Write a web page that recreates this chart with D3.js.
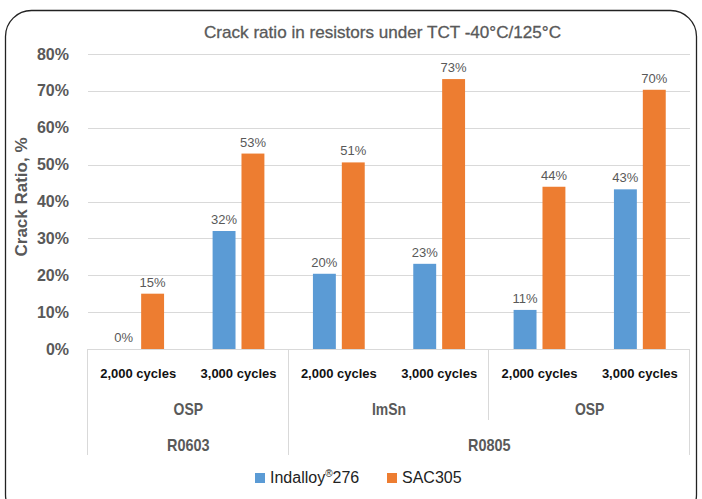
<!DOCTYPE html>
<html>
<head>
<meta charset="utf-8">
<script src="https://cdn.jsdelivr.net/npm/d3@7"></script>
<style>
  body { margin:0; background:#fff; }
  svg { display:block; }
</style>
</head>
<body>
<div class="canvas"></div>
<script>
// data
var cycles = ["2,000 cycles","3,000 cycles","2,000 cycles","3,000 cycles","2,000 cycles","3,000 cycles"];
var finishes = ["OSP","ImSn","OSP"];          // each spans 2 cycle columns
var finishSpan = [2,2,2];
var packages = ["R0603","R0805"];
var packageSpan = [2,4];
var seriesNames = ["Indalloy\u00ae276","SAC305"];
var indalloy = [0, 32, 20.4, 23.1, 10.6, 43.3];
var sac305 = [15, 53, 50.6, 73.2, 44, 70.3];
var yTicks = [0,10,20,30,40,50,60,70,80];
var colors = ["#5b9bd5","#ed7d31"];

var W = 702, H = 499;
var margin = {t:54, l:88};
var plotRight = 690, plotBottom = 349;

var svg = d3.select('.canvas').append('svg')
    .attr('width', W).attr('height', H);

var font = "'Liberation Sans', Arial, sans-serif";

// squeeze Arial-ish text towards the narrower Calibri look
function squeeze(sel, k){
    sel.each(function(){
        var w = this.getComputedTextLength();
        d3.select(this).attr('textLength', w * k).attr('lengthAdjust', 'spacingAndGlyphs');
    });
}

// outer rounded frame
svg.append('rect')
    .attr('x', 5.5).attr('y', 10.5)
    .attr('width', 691).attr('height', 510)
    .attr('rx', 26).attr('ry', 26)
    .attr('fill', 'none').attr('stroke', '#222').attr('stroke-width', 1.3);

var y = d3.scaleLinear().domain([0,80]).range([plotBottom, margin.t]);
var x0 = d3.scaleBand().domain(d3.range(cycles.length)).range([margin.l, plotRight]);
var x1 = d3.scaleBand().domain([0,1]).range([0, x0.bandwidth()])
    .paddingInner(0.207).paddingOuter(0.84);

// title
svg.append('text')
    .attr('x', 204).attr('y', 38)
    .attr('font-family', font)
    .attr('font-size', '17px')
    .attr('fill', '#595959')
    .attr('stroke', '#595959').attr('stroke-width', 0.3)
    .attr('textLength', 357)
    .attr('lengthAdjust', 'spacingAndGlyphs')
    .text('Crack ratio in resistors under TCT -40\u00b0C/125\u00b0C');

// gridlines
svg.append('g').selectAll('line')
    .data(yTicks.filter(function(d){ return d > 0; }))
    .enter().append('line')
    .attr('x1', margin.l).attr('x2', plotRight)
    .attr('y1', function(d){ return Math.round(y(d)) + 0.5; })
    .attr('y2', function(d){ return Math.round(y(d)) + 0.5; })
    .attr('stroke', '#d9d9d9').attr('stroke-width', 1);

// y tick labels
svg.append('g').selectAll('text')
    .data(yTicks)
    .enter().append('text')
    .attr('x', 69)
    .attr('y', function(d){ return y(d); })
    .attr('dy', '0.35em')
    .attr('text-anchor', 'end')
    .attr('font-family', font)
    .attr('font-size', '16px')
    .attr('font-weight', 'bold')
    .attr('fill', '#595959')
    .text(function(d){ return d + '%'; });

// y axis title
svg.append('text')
    .attr('transform', 'translate(27,197) rotate(-90)')
    .attr('text-anchor', 'middle')
    .attr('font-family', font)
    .attr('font-size', '17px')
    .attr('font-weight', 'bold')
    .attr('fill', '#595959')
    .text('Crack Ratio, %');

// bars
var rows = cycles.map(function(c,i){ return [indalloy[i], sac305[i]]; });
var groups = svg.append('g').selectAll('g')
    .data(rows).enter().append('g')
    .attr('transform', function(d,i){ return 'translate(' + x0(i) + ',0)'; });

groups.selectAll('rect')
    .data(function(d){ return d; })
    .enter().append('rect')
    .attr('x', function(d,j){ return x1(j); })
    .attr('y', function(d){ return y(d); })
    .attr('width', x1.bandwidth())
    .attr('height', function(d){ return plotBottom - y(d); })
    .attr('fill', function(d,j){ return colors[j]; });

groups.selectAll('text')
    .data(function(d){ return d; })
    .enter().append('text')
    .attr('x', function(d,j){ return x1(j) + x1.bandwidth()/2; })
    .attr('y', function(d){ return y(d) - 7; })
    .attr('text-anchor', 'middle')
    .attr('font-family', font)
    .attr('font-size', '13px')
    .attr('fill', '#595959')
    .text(function(d){ return Math.round(d) + '%'; });

// baseline
svg.append('line')
    .attr('x1', margin.l).attr('x2', plotRight)
    .attr('y1', plotBottom + 0.5).attr('y2', plotBottom + 0.5)
    .attr('stroke', '#d9d9d9');

// category axis: cycles
svg.append('g').selectAll('text')
    .data(cycles).enter().append('text')
    .attr('x', function(d,i){ return x0(i) + x0.bandwidth()/2; })
    .attr('y', 378)
    .attr('text-anchor', 'middle')
    .attr('font-family', font)
    .attr('font-size', '13px')
    .attr('font-weight', 'bold')
    .attr('fill', '#111')
    .text(function(d){ return d; });

// finishes
var start = 0;
finishes.forEach(function(f,k){
    var a = x0(start), b = x0(start + finishSpan[k] - 1) + x0.bandwidth();
    svg.append('text')
        .attr('class', 'lvl2')
        .attr('x', (a+b)/2).attr('y', 415)
        .attr('text-anchor', 'middle')
        .attr('font-family', font)
        .attr('font-size', '17px')
        .attr('font-weight', 'bold')
        .attr('fill', '#595959')
        .text(f);
    start += finishSpan[k];
});
squeeze(svg.selectAll('.lvl2'), 0.82);

// packages
start = 0;
packages.forEach(function(p,k){
    var a = x0(start), b = x0(start + packageSpan[k] - 1) + x0.bandwidth();
    svg.append('text')
        .attr('class', 'lvl3')
        .attr('x', (a+b)/2).attr('y', 451)
        .attr('text-anchor', 'middle')
        .attr('font-family', font)
        .attr('font-size', '17px')
        .attr('font-weight', 'bold')
        .attr('fill', '#595959')
        .text(p);
    start += packageSpan[k];
});
squeeze(svg.selectAll('.lvl3'), 0.85);

// separators: long at package boundaries, short at finish boundaries
var longIdx = [0, 2, 6], shortIdx = [4];
function bx(i){ return i < cycles.length ? x0(i) : x0(cycles.length-1) + x0.bandwidth(); }
svg.append('g').selectAll('line')
    .data(longIdx).enter().append('line')
    .attr('x1', function(i){ return Math.round(bx(i)) - 0.5; })
    .attr('x2', function(i){ return Math.round(bx(i)) - 0.5; })
    .attr('y1', plotBottom).attr('y2', 455)
    .attr('stroke', '#d9d9d9');
svg.append('g').selectAll('line')
    .data(shortIdx).enter().append('line')
    .attr('x1', function(i){ return Math.round(bx(i)) - 0.5; })
    .attr('x2', function(i){ return Math.round(bx(i)) - 0.5; })
    .attr('y1', plotBottom).attr('y2', 420)
    .attr('stroke', '#d9d9d9');

// legend
var legendX = [255, 387];
var lg = svg.append('g').selectAll('g')
    .data(seriesNames).enter().append('g')
    .attr('transform', function(d,i){ return 'translate(' + legendX[i] + ',473)'; });
lg.append('rect')
    .attr('width', 10).attr('height', 10)
    .attr('fill', function(d,i){ return colors[i]; });
lg.append('text')
    .attr('x', 15).attr('y', 10)
    .attr('font-family', font)
    .attr('font-size', '16px')
    .attr('fill', '#222')
    .each(function(d){
        var t = d3.select(this);
        if (d.indexOf('\u00ae') >= 0) {
            var parts = d.split('\u00ae');
            t.append('tspan').text(parts[0]);
            t.append('tspan').attr('font-size', '10px').attr('dy', -6).text('\u00ae');
            t.append('tspan').attr('dy', 6).text(parts[1]);
        } else {
            t.text(d);
        }
    });
</script>
</body>
</html>
